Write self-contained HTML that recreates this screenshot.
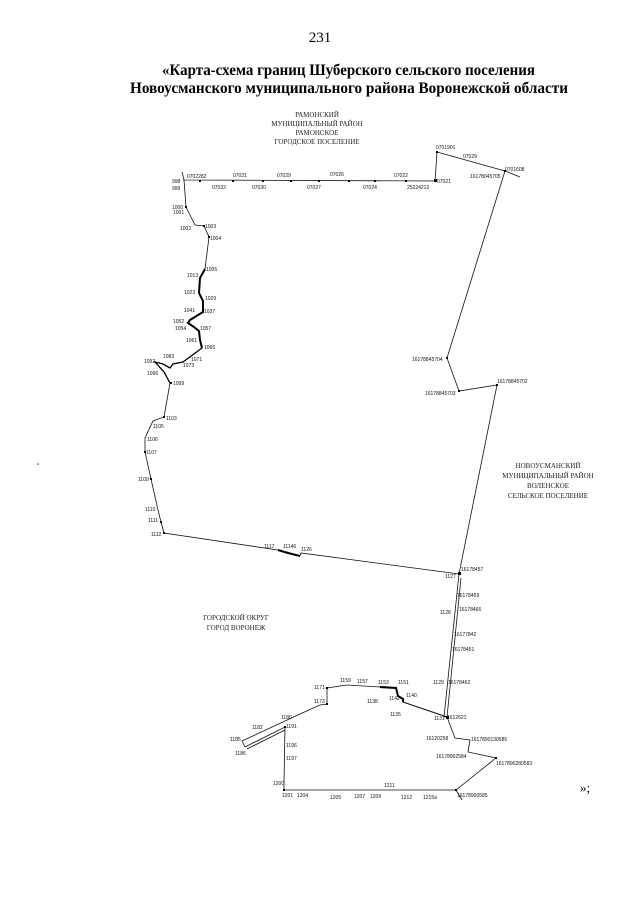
<!DOCTYPE html>
<html><head><meta charset="utf-8"><style>
html,body{margin:0;padding:0;background:#fff;}
svg{display:block;}
.t{font-family:"Liberation Serif",serif;}
.s{font-family:"Liberation Sans",sans-serif;font-size:5px;fill:#111;}
.r{font-family:"Liberation Serif",serif;font-size:7px;fill:#222;text-anchor:middle;}
</style></head><body>
<svg width="640" height="905" viewBox="0 0 640 905" xmlns="http://www.w3.org/2000/svg">
<text class="t" x="320" y="42" font-size="15" text-anchor="middle">231</text>
<text class="t" x="162" y="75" font-size="15.5" font-weight="bold" textLength="373" lengthAdjust="spacingAndGlyphs">«Карта-схема границ Шуберского сельского поселения</text>
<text class="t" x="130" y="93" font-size="15.5" font-weight="bold" textLength="438" lengthAdjust="spacingAndGlyphs">Новоусманского муниципального района Воронежской области</text>

<text class="r" x="317" y="117">РАМОНСКИЙ</text>
<text class="r" x="317" y="126">МУНИЦИПАЛЬНЫЙ РАЙОН</text>
<text class="r" x="317" y="135">РАМОНСКОЕ</text>
<text class="r" x="317" y="144">ГОРОДСКОЕ ПОСЕЛЕНИЕ</text>

<text class="r" x="548" y="468">НОВОУСМАНСКИЙ</text>
<text class="r" x="548" y="478">МУНИЦИПАЛЬНЫЙ РАЙОН</text>
<text class="r" x="548" y="488">ВОЛЕНСКОЕ</text>
<text class="r" x="548" y="498">СЕЛЬСКОЕ ПОСЕЛЕНИЕ</text>

<text class="r" x="236" y="620">ГОРОДСКОЙ ОКРУГ</text>
<text class="r" x="236" y="630">ГОРОД ВОРОНЕЖ</text>

<text class="t" x="580" y="792" font-size="13">»;</text>
<circle cx="38" cy="464" r="0.8" fill="#333"/>

<g fill="none" stroke="#111" stroke-width="0.8">
<!-- top & right -->
<polyline points="182,172 184,180 435,181 437,152 505,171 520,177"/>
<polyline points="505,171 447,358 459,391 497,385 459,574 444,717 447,717 455,738 470,740 468,752 496,758 456,790 284,790 284,783 285,727 245,747 242,741 300,714 320,705 327,704 327,688 347,685 380,687"/>
<polyline points="461,578 447,717"/>
<polyline points="456,790 462,800"/>
<polyline points="285,730 247,749"/>
<!-- south notch -->
<polyline points="403,702 447,717" stroke-width="1.1"/>
<!-- left side -->
<polyline points="184,180 186,207 195,225 204,226 209,237 205,269"/>
<polyline points="170,383 164,417 153,421 145,438 145,452 151,479 158,510 161,522 164,533 278,550"/>
<polyline points="300,556 301,553 459,574"/>
</g>
<g fill="none" stroke="#000" stroke-width="2">
<polyline points="205,269 200,278 199,293 203,301 203,312 190,320 188,323 194,327 199,331 200,340 202,348"/>
<polyline points="380,687 396,688 398,696 403,699 403,702"/>
<polyline points="278,550 288,553 300,556"/>
</g>
<g fill="none" stroke="#000" stroke-width="1.3">
<polyline points="202,348 183,362 173,364 170,368 163,364 155,362 164,372 170,383"/>
</g>
<g fill="#000">
<rect x="199" y="180" width="2" height="2"/><rect x="232" y="180" width="2" height="2"/><rect x="262" y="180" width="2" height="2"/><rect x="290" y="180" width="2" height="2"/><rect x="318" y="180" width="2" height="2"/><rect x="348" y="180" width="2" height="2"/><rect x="374" y="180" width="2" height="2"/><rect x="405" y="180" width="2" height="2"/><rect x="434" y="179" width="3" height="3"/><rect x="436" y="151" width="2" height="2"/>
<rect x="504" y="170" width="2" height="2"/><rect x="446" y="357" width="2" height="2"/><rect x="458" y="390" width="2" height="2"/><rect x="496" y="384" width="2" height="2"/><rect x="458" y="572" width="3" height="3"/><rect x="446" y="716" width="3" height="3"/>
<rect x="185" y="206" width="2" height="2"/><rect x="203" y="225" width="2" height="2"/><rect x="208" y="236" width="2" height="2"/><rect x="170" y="382" width="2" height="2"/><rect x="163" y="416" width="2" height="2"/><rect x="144" y="451" width="2" height="2"/><rect x="150" y="478" width="2" height="2"/><rect x="160" y="521" width="2" height="2"/><rect x="163" y="532" width="2" height="2"/>
<rect x="283" y="789" width="2" height="2"/><rect x="284" y="726" width="2" height="2"/><rect x="326" y="687" width="2" height="2"/><rect x="326" y="703" width="2" height="2"/><rect x="455" y="789" width="2" height="2"/><rect x="495" y="757" width="2" height="2"/>
</g>
<g class="s">
<text x="172" y="183">998</text><text x="172" y="190">999</text>
<text x="187" y="178">0702282</text><text x="212" y="189">07032</text><text x="233" y="177">07031</text><text x="252" y="189">07030</text><text x="277" y="177">07029</text><text x="307" y="189">07027</text><text x="330" y="176">07026</text><text x="363" y="189">07024</text><text x="394" y="177">07022</text><text x="407" y="189">25224212</text><text x="437" y="183">07021</text>
<text x="436" y="149">0701901</text><text x="463" y="158">07029</text><text x="505" y="171">0701608</text><text x="470" y="178">16178045705</text>
<text x="412" y="361">16178845704</text><text x="425" y="395">16178845703</text><text x="497" y="383">16178845702</text>
<text x="172" y="209">1000</text><text x="173" y="214">1001</text><text x="180" y="230">1002</text><text x="205" y="228">1003</text><text x="210" y="240">1004</text><text x="206" y="271">1005</text><text x="187" y="277">1013</text><text x="184" y="294">1023</text><text x="205" y="300">1029</text><text x="184" y="312">1041</text><text x="204" y="313">1037</text><text x="173" y="323">1052</text><text x="175" y="330">1054</text><text x="200" y="330">1057</text><text x="186" y="342">1061</text><text x="204" y="349">1065</text><text x="163" y="358">1083</text><text x="191" y="361">1071</text><text x="183" y="367">1073</text><text x="144" y="363">1092</text><text x="147" y="375">1096</text><text x="173" y="385">1099</text>
<text x="166" y="420">1103</text><text x="153" y="428">1105</text><text x="147" y="441">1106</text><text x="146" y="454">1107</text><text x="138" y="481">1109</text><text x="145" y="511">1110</text><text x="148" y="522">1111</text><text x="151" y="536">1112</text>
<text x="264" y="548">1117</text><text x="283" y="548">11146</text><text x="301" y="551">1126</text><text x="445" y="578">1127</text><text x="461" y="571">16178457</text><text x="457" y="597">16178459</text><text x="440" y="614">1128</text><text x="459" y="611">16178466</text><text x="454" y="636">16177842</text><text x="452" y="651">16178451</text><text x="433" y="684">1129</text><text x="448" y="684">16178462</text><text x="434" y="720">1131</text><text x="447" y="719">1612621</text><text x="426" y="740">16120258</text><text x="471" y="741">1617890130585</text><text x="436" y="758">16178902584</text><text x="496" y="765">1617890280583</text><text x="457" y="797">16178900585</text>
<text x="367" y="703">1138</text><text x="390" y="716">1135</text><text x="389" y="700">1142</text><text x="406" y="697">1140</text><text x="398" y="684">1151</text><text x="378" y="684">1153</text><text x="357" y="683">1157</text><text x="340" y="682">1159</text><text x="314" y="689">1171</text><text x="314" y="703">1173</text><text x="281" y="719">1180</text><text x="252" y="729">1182</text><text x="286" y="728">1191</text><text x="230" y="741">1185</text><text x="235" y="755">1186</text><text x="286" y="747">1196</text><text x="286" y="760">1197</text><text x="273" y="785">1200</text><text x="282" y="797">1201</text><text x="297" y="797">1204</text><text x="330" y="799">1205</text><text x="354" y="798">1207</text><text x="370" y="798">1209</text><text x="384" y="787">1211</text><text x="401" y="799">1212</text><text x="423" y="799">1215a</text>
</g>
</svg>
</body></html>
